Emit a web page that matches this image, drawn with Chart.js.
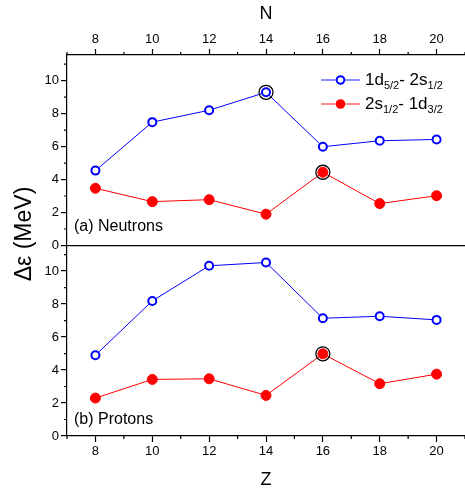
<!DOCTYPE html>
<html>
<head>
    <title>Energy gaps - neutrons and protons</title>
    <script src="https://cdn.jsdelivr.net/npm/chart.js"></script>
    <style>
        body { margin: 0; background: #fff; }
        #wrap { width: 465px; height: 491px; }
    </style>
</head>
<body>
    <div id="wrap"><canvas id="gapChart" width="465" height="491"></canvas></div>

    <script>
        // x values (N for top panel, Z for bottom panel)
        const nucleonNumbers = [8, 10, 12, 14, 16, 18, 20];
        const xTickValues = [8, 10, 12, 14, 16, 18, 20];
        // (a) Neutrons
        const neutronD52S12 = [4.54, 7.48, 8.2, 9.29, 5.99, 6.35, 6.43];
        const neutronS12D32 = [3.47, 2.66, 2.78, 1.9, 4.44, 2.54, 3.02];
        // (b) Protons
        const protonD52S12 = [4.9, 8.19, 10.32, 10.52, 7.14, 7.26, 7.04];
        const protonS12D32 = [2.3, 3.43, 3.47, 2.46, 4.98, 3.17, 3.75];
        // circled points (index into the arrays above)
        const circledNeutronBlue = [3];
        const circledNeutronRed = [4];
        const circledProtonRed = [4];

        const font = 'Liberation Sans, Arial, sans-serif';

        function toPoints(ys) {
            return ys.map((y, i) => ({ x: nucleonNumbers[i], y: y }));
        }
        function pick(ys, idx) {
            return idx.map(i => ({ x: nucleonNumbers[i], y: ys[i] }));
        }

        // minor ticks, legend, panel labels, y title
        const extras = {
            id: 'extras',
            afterDraw(chart) {
                const c = chart.ctx;
                const s = chart.scales;
                c.save();
                c.strokeStyle = '#000';
                c.lineWidth = 1.2;
                c.beginPath();
                for (let v = 7; v <= 21; v += 2) {
                    const px = s.x.getPixelForValue(v);
                    c.moveTo(px, s.x.top); c.lineTo(px, s.x.top + 3);
                    c.moveTo(px, s.x2.bottom); c.lineTo(px, s.x2.bottom - 3);
                }
                for (let v = 1; v <= 11; v += 2) {
                    for (const id of ['yA', 'yB']) {
                        const py = s[id].getPixelForValue(v);
                        c.moveTo(s[id].right, py); c.lineTo(s[id].right - 3, py);
                    }
                }
                c.stroke();

                // legend
                const rows = [
                    { y: 80, color: 'rgba(0,0,255,0.6)', mark: '#0000ff', fill: '#fff',
                      parts: [['1d', 0], ['5/2', 1], ['- 2s', 0], ['1/2', 1]] },
                    { y: 104, color: 'rgba(255,0,0,0.6)', mark: '#ff0000', fill: '#ff0000',
                      parts: [['2s', 0], ['1/2', 1], ['- 1d', 0], ['3/2', 1]] }
                ];
                rows.forEach(r => {
                    c.strokeStyle = r.color;
                    c.lineWidth = 1.5;
                    c.beginPath(); c.moveTo(321, r.y); c.lineTo(360, r.y); c.stroke();
                    c.beginPath(); c.arc(340.5, r.y, 3.8, 0, Math.PI * 2);
                    c.fillStyle = r.fill; c.fill();
                    c.strokeStyle = r.mark; c.lineWidth = 2; c.stroke();
                    let tx = 365;
                    c.fillStyle = '#000';
                    c.textBaseline = 'middle';
                    c.textAlign = 'left';
                    r.parts.forEach(p => {
                        if (p[1]) {
                            c.font = '11px ' + font;
                            c.fillText(p[0], tx, r.y + 6);
                        } else {
                            c.font = '17px ' + font;
                            c.fillText(p[0], tx, r.y);
                        }
                        tx += c.measureText(p[0]).width;
                    });
                });

                // panel labels
                c.font = '16px ' + font;
                c.fillStyle = '#000';
                c.textBaseline = 'middle';
                c.fillText('(a) Neutrons', 74, 227);
                c.fillText('(b) Protons', 74, 420);

                // y title spanning both panels
                c.translate(25, 234);
                c.rotate(-Math.PI / 2);
                c.textAlign = 'center';
                c.font = '23px ' + font;
                c.fillText('\u0394\u03b5 (MeV)', 0, 0);
                c.restore();
            }
        };

        const tickFont = { family: font, size: 13 };
        function xAxis(pos, title, pad) {
            return {
                type: 'linear', position: pos, min: 7, max: 21,
                ticks: { color: '#000', font: tickFont, padding: 2 },
                afterBuildTicks(scale) { scale.ticks = xTickValues.map(v => ({ value: v })); },
                grid: { drawOnChartArea: false, tickLength: 6, tickColor: '#000', tickWidth: 1.2 },
                border: { color: '#000', width: 1.2 },
                title: { display: true, text: title, color: '#000', font: { family: font, size: 18 }, padding: { top: pad, bottom: 0 } },
                afterFit(scale) {
                    scale.height = 55;
                    scale.paddingLeft = 0;
                    scale.paddingRight = 0;
                }
            };
        }
        function yAxis(zeroLine) {
            return {
                type: 'linear', position: 'left', stack: 'panels', stackWeight: 1,
                min: 0, max: 11.55,
                ticks: { stepSize: 2, includeBounds: false, color: '#000', font: tickFont, padding: 2 },
                grid: {
                    drawOnChartArea: zeroLine,
                    color: ctx => (ctx.tick && ctx.tick.value === 0) ? '#000' : 'rgba(0,0,0,0)',
                    lineWidth: 1.2,
                    tickLength: 6, tickColor: '#000', tickWidth: 1.2
                },
                border: { color: '#000', width: 1.2 },
                afterFit(scale) {
                    scale.width = 67;
                    scale.paddingTop = 0;
                    scale.paddingBottom = 0;
                }
            };
        }

        const blueStyle = {
            borderColor: '#0000ff', borderWidth: 1, pointRadius: 4, pointBorderWidth: 2,
            pointBackgroundColor: '#fff', pointBorderColor: '#0000ff', tension: 0
        };
        const redStyle = {
            borderColor: '#ff0000', borderWidth: 1, pointRadius: 5, pointBorderWidth: 1,
            pointBackgroundColor: '#ff0000', pointBorderColor: '#ff0000', tension: 0
        };
        const ringStyle = {
            showLine: false, pointRadius: 7, pointBorderWidth: 1.3, pointBorderColor: '#000',
            pointBackgroundColor: 'rgba(0,0,0,0)', order: -1
        };

        new Chart(document.getElementById('gapChart'), {
            type: 'line',
            data: {
                datasets: [
                    Object.assign({ label: 'n 1d5/2-2s1/2', data: toPoints(neutronD52S12), yAxisID: 'yA' }, blueStyle),
                    Object.assign({ label: 'n 2s1/2-1d3/2', data: toPoints(neutronS12D32), yAxisID: 'yA' }, redStyle),
                    Object.assign({ label: 'p 1d5/2-2s1/2', data: toPoints(protonD52S12), yAxisID: 'yB' }, blueStyle),
                    Object.assign({ label: 'p 2s1/2-1d3/2', data: toPoints(protonS12D32), yAxisID: 'yB' }, redStyle),
                    Object.assign({ label: 'ring a', data: pick(neutronD52S12, circledNeutronBlue).concat(pick(neutronS12D32, circledNeutronRed)), yAxisID: 'yA' }, ringStyle),
                    Object.assign({ label: 'ring b', data: pick(protonS12D32, circledProtonRed), yAxisID: 'yB' }, ringStyle)
                ]
            },
            options: {
                responsive: false,
                animation: false,
                devicePixelRatio: 1,
                layout: { padding: 0, autoPadding: false },
                plugins: { legend: { display: false }, tooltip: { enabled: false } },
                scales: {
                    x: xAxis('bottom', 'Z', 2),
                    x2: xAxis('top', 'N', 3),
                    yB: yAxis(false),
                    yA: yAxis(true)
                }
            },
            plugins: [extras]
        });
    </script>
</body>
</html>
